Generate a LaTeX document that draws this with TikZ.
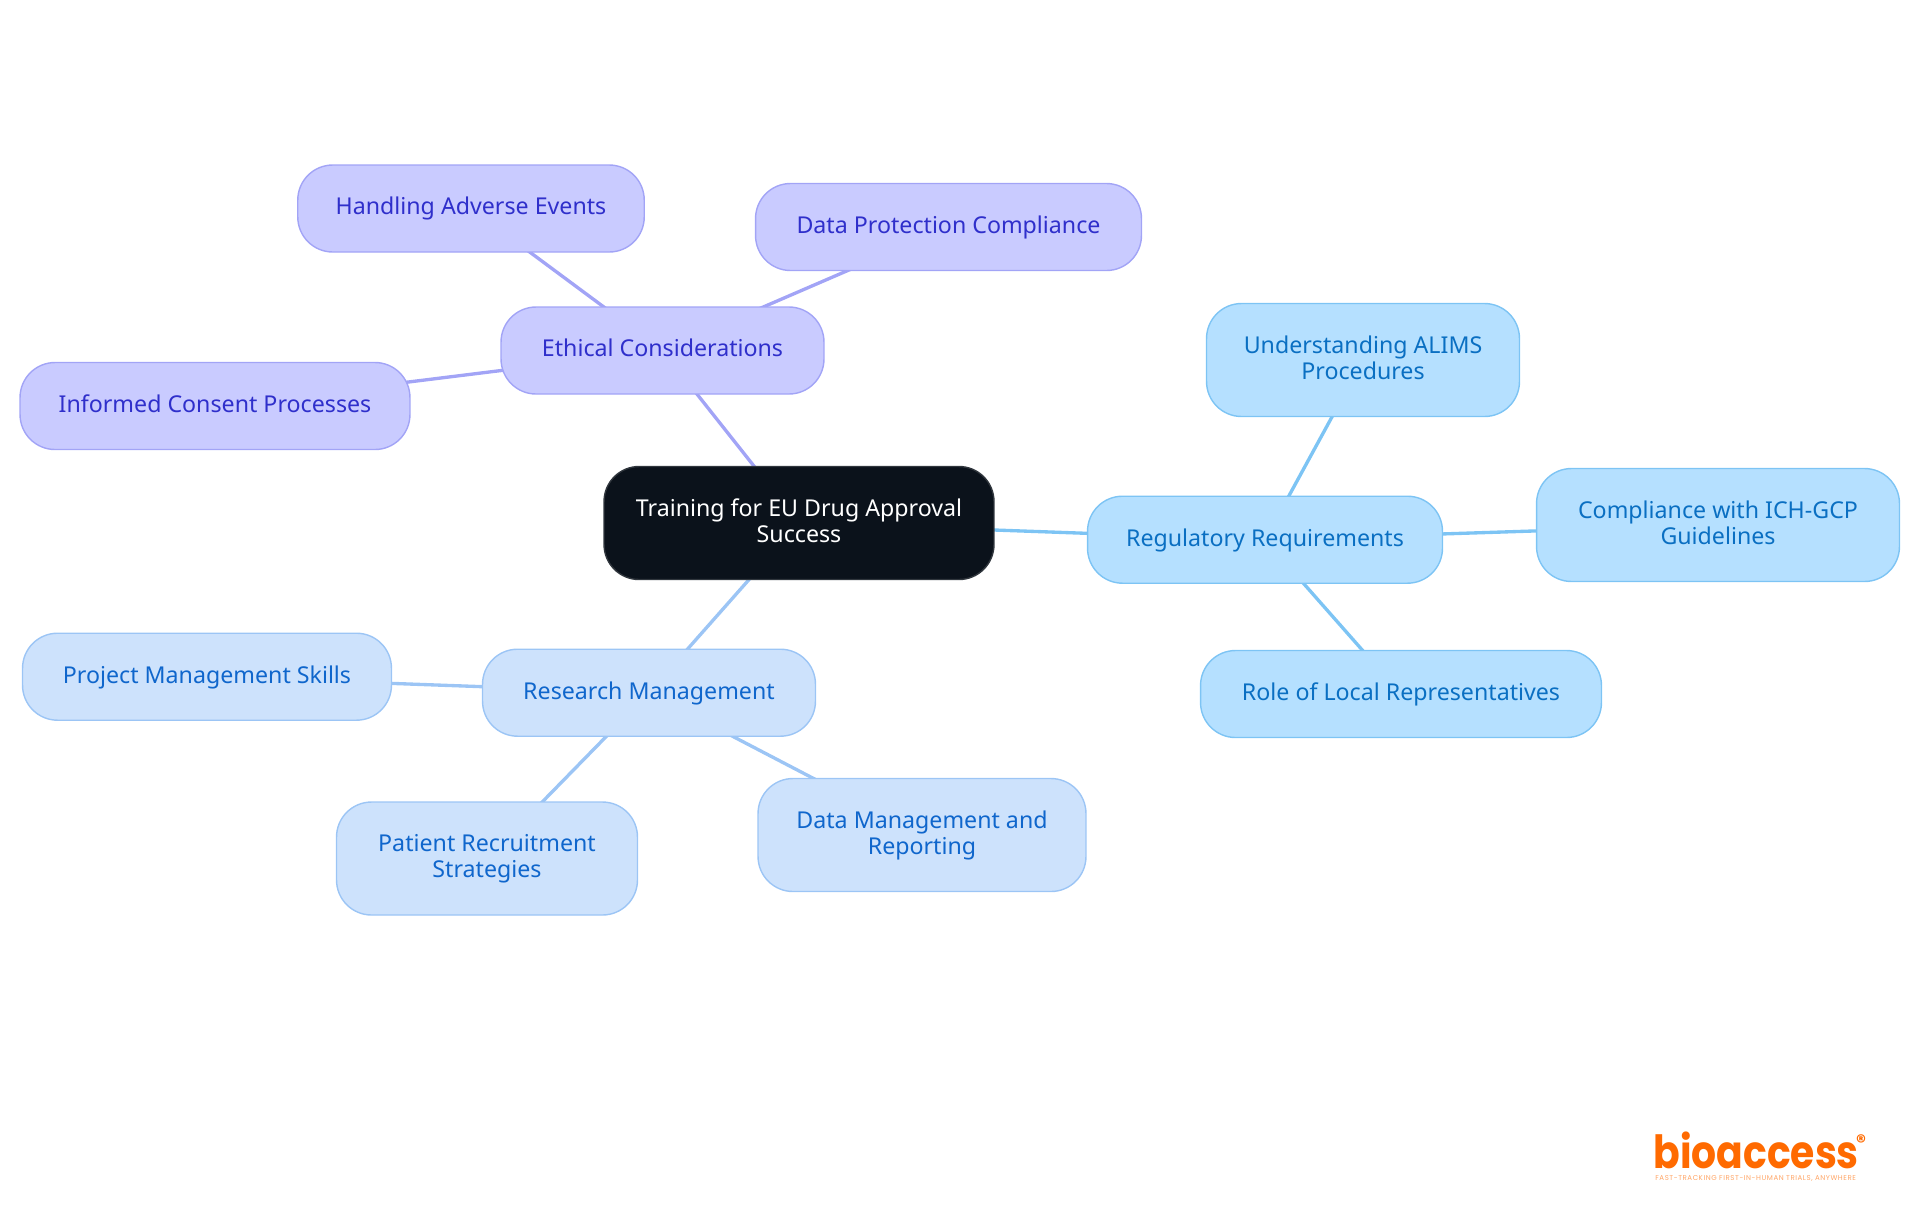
\documentclass[tikz,border=0pt]{standalone}
\usepackage{fontspec}
\setmainfont{Noto Sans}
\newfontfamily\logofont[FakeStretch=0.86]{Poppins}
\newfontfamily\tagfont[LetterSpace=8]{Poppins}
\usetikzlibrary{backgrounds}
\definecolor{rootfill}{HTML}{0B121B}
\definecolor{purplefill}{HTML}{C9CBFF}
\definecolor{purpleline}{HTML}{A2A4F6}
\definecolor{purpletext}{HTML}{2F2FCB}
\definecolor{skyfill}{HTML}{B5E0FF}
\definecolor{skyline}{HTML}{7DC4F4}
\definecolor{skytext}{HTML}{0A6FC2}
\definecolor{bluefill}{HTML}{CDE2FC}
\definecolor{blueline}{HTML}{9CC5F5}
\definecolor{bluetext}{HTML}{0F66CC}
\definecolor{logoorange}{HTML}{FF6A00}
\tikzset{
  mapnode/.style={rectangle,rounded corners=0.7cm,line width=0.8pt,align=center,inner sep=0pt,
    minimum height=1.74cm,text height=10pt,text depth=2.8pt,font=\fontsize{13.2}{14.8}\selectfont},
  twoline/.style={minimum height=2.26cm,text height=24.8pt,text depth=2.8pt},
  rootnode/.style={mapnode,twoline,fill=rootfill,draw=rootfill!85!white,text=white},
  ethicnode/.style={mapnode,fill=purplefill,draw=purpleline,text=purpletext},
  regnode/.style={mapnode,fill=skyfill,draw=skyline,text=skytext},
  resnode/.style={mapnode,fill=bluefill,draw=blueline,text=bluetext},
  link/.style={line width=1.9pt},
}
\begin{document}
\begin{tikzpicture}[x=0.02cm,y=-0.02cm]
    \useasboundingbox (0,0) rectangle (1920,1215);
    \node[rootnode,minimum width=7.8cm] (root) at (799,523) {Training for EU Drug Approval\\Success};
    \node[ethicnode,minimum width=6.46cm] (ethical) at (662.5,350.5) {Ethical Considerations};
    \node[ethicnode,minimum width=6.93cm] (adverse) at (471,208.5) {Handling Adverse Events};
    \node[ethicnode,minimum width=7.72cm] (privacy) at (948.5,227) {Data Protection Compliance};
    \node[ethicnode,minimum width=7.8cm] (consent) at (215,406) {Informed Consent Processes};
    \node[regnode,minimum width=7.1cm] (regulatory) at (1265,539.7) {Regulatory Requirements};
    \node[regnode,twoline,minimum width=6.26cm] (alims) at (1363,360) {Understanding ALIMS\\Procedures};
    \node[regnode,twoline,minimum width=7.26cm] (gcp) at (1718,525) {Compliance with ICH-GCP\\Guidelines};
    \node[regnode,minimum width=8.02cm] (local) at (1401,694) {Role of Local Representatives};
    \node[resnode,minimum width=6.66cm] (research) at (649,692.7) {Research Management};
    \node[resnode,minimum width=7.38cm] (project) at (207,676.7) {Project Management Skills};
    \node[resnode,twoline,minimum width=6.02cm] (patient) at (487,858.5) {Patient Recruitment\\Strategies};
    \node[resnode,twoline,minimum width=6.56cm] (datamgmt) at (922,835) {Data Management and\\Reporting};
    \begin{pgfonlayer}{background}
        \draw[link,purpleline] (root.center) -- (ethical.center);
        \draw[link,purpleline] (ethical.center) -- (adverse.center);
        \draw[link,purpleline] (ethical.center) -- (privacy.center);
        \draw[link,purpleline] (ethical.center) -- (consent.center);
        \draw[link,skyline] (root.center) -- (regulatory.center);
        \draw[link,skyline] (regulatory.center) -- (alims.center);
        \draw[link,skyline] (regulatory.center) -- (gcp.center);
        \draw[link,skyline] (regulatory.center) -- (local.center);
        \draw[link,blueline] (root.center) -- (research.center);
        \draw[link,blueline] (research.center) -- (project.center);
        \draw[link,blueline] (research.center) -- (patient.center);
        \draw[link,blueline] (research.center) -- (datamgmt.center);
    \end{pgfonlayer}
    \node[inner sep=0pt,anchor=base west,text=logoorange,font=\logofont\bfseries\fontsize{26}{26}\selectfont] (logo) at (1653,1168) {bioaccess};
    \node[inner sep=0pt,anchor=center,text=logoorange,font=\tagfont\bfseries\fontsize{11}{11}\selectfont] (regmark) at (1861,1142) {®};
    \node[inner sep=0pt,anchor=base west,text=logoorange!60,font=\tagfont\fontsize{4}{4}\selectfont] (tagline) at (1655,1180) {FAST-TRACKING FIRST-IN-HUMAN TRIALS, ANYWHERE};
\end{tikzpicture}
\end{document}
